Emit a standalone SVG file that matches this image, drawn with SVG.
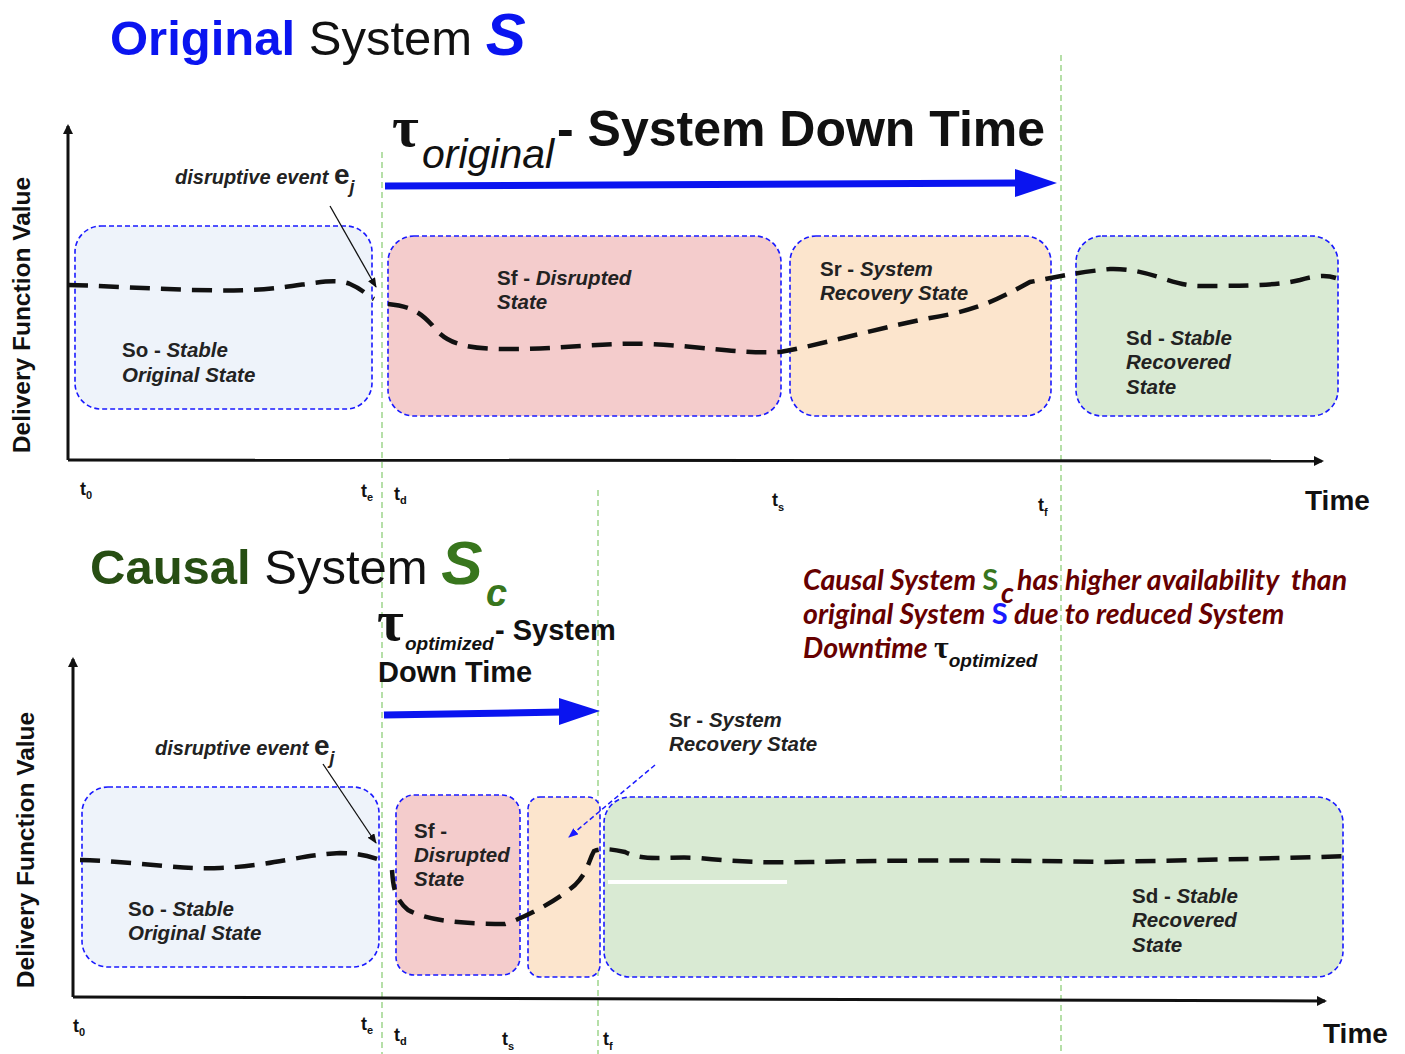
<svg xmlns="http://www.w3.org/2000/svg" width="1405" height="1054" viewBox="0 0 1405 1054">
  <style>
    .sans { font-family: "Liberation Sans", Arial, sans-serif; }
    .tau { font-family: "Liberation Serif", "Times New Roman", serif; font-weight: bold; fill: #111; }
    .lbl { font-family: "Liberation Sans", Arial, sans-serif; font-size: 20.5px; font-weight: bold; fill: #222; }
    .it { font-style: italic; }
    .tick { font-family: "Liberation Sans", Arial, sans-serif; font-size: 18px; font-weight: bold; fill: #111; }
    .sub { font-size: 11px; }
    .box { stroke: #1a1aff; stroke-width: 1.6; stroke-dasharray: 5 3; }
    .so { fill: #eef3fa; }
    .sf { fill: #f4cccc; }
    .sr { fill: #fce5cd; }
    .sd { fill: #d9ead3; }
    .guide { stroke: #8fce7a; stroke-width: 1.3; stroke-dasharray: 6 4; fill: none; }
    .axis { stroke: #111; stroke-width: 3; fill: none; }
    .curve { stroke: #111; stroke-width: 4.5; stroke-dasharray: 20 11; fill: none; }
    .span { stroke: #0a14f0; stroke-width: 7; fill: none; }
    .note { font-family: Lato, "Open Sans", sans-serif; font-size: 28.5px; font-weight: bold; font-style: italic; fill: #660000; }
    .event { font-family: "Liberation Sans", Arial, sans-serif; font-size: 20px; font-weight: bold; font-style: italic; fill: #222; }
  </style>
  <defs>
    <marker id="axisHead" markerWidth="10" markerHeight="10" refX="8" refY="5" orient="auto" markerUnits="userSpaceOnUse">
      <path d="M0,0 L10,5 L0,10 Z" fill="#111"/>
    </marker>
    <marker id="thinHead" markerWidth="10" markerHeight="8" refX="9" refY="4" orient="auto" markerUnits="userSpaceOnUse">
      <path d="M0,0 L10,4 L0,8 Z" fill="#111"/>
    </marker>
    <marker id="blueHead" markerWidth="10" markerHeight="8" refX="9" refY="4" orient="auto" markerUnits="userSpaceOnUse">
      <path d="M0,0 L10,4 L0,8 Z" fill="#1a1aff"/>
    </marker>
  </defs>

  <rect width="1405" height="1054" fill="#ffffff"/>

  <!-- time markers -->
  <g id="guides">
    <line class="guide" x1="382" y1="152" x2="382" y2="1054"/>
    <line class="guide" x1="1061" y1="55" x2="1061" y2="1054"/>
    <line class="guide" x1="598" y1="490" x2="598" y2="1054"/>
  </g>

  <!-- ===== Original system ===== -->
  <g id="title-original">
    <text x="110" y="55" class="sans" font-size="49"><tspan font-weight="bold" fill="#0a14f0">Original</tspan><tspan fill="#111"> System </tspan><tspan font-weight="bold" font-style="italic" fill="#0a14f0" font-size="60">S</tspan></text>
  </g>

  <g id="downtime-original">
    <text x="392" y="146" class="tau" font-size="58">τ</text>
    <text x="422" y="168" class="sans it" font-size="41" fill="#111">original</text>
    <text x="557" y="146" class="sans" font-size="50" font-weight="bold" fill="#111">- System Down Time</text>
  </g>

  <g id="axes-original">
    <line class="axis" x1="68" y1="460" x2="68" y2="126" marker-end="url(#axisHead)"/>
    <line class="axis" x1="68" y1="460" x2="1322" y2="461" marker-end="url(#axisHead)"/>
    <text transform="translate(30,315) rotate(-90)" text-anchor="middle" class="sans" font-size="24.5" font-weight="bold" fill="#111">Delivery Function Value</text>
    <text x="1305" y="510" class="sans" font-size="28" font-weight="bold" fill="#111">Time</text>
  </g>

  <g id="ticks-original">
    <text x="80" y="495" class="tick">t<tspan class="sub" dy="4">0</tspan></text>
    <text x="361" y="497" class="tick">t<tspan class="sub" dy="4">e</tspan></text>
    <text x="394" y="500" class="tick">t<tspan class="sub" dy="4">d</tspan></text>
    <text x="772" y="506" class="tick">t<tspan class="sub" dy="5">s</tspan></text>
    <text x="1038" y="511" class="tick">t<tspan class="sub" dy="5">f</tspan></text>
  </g>

  <g id="so-original">
    <rect class="box so" x="75" y="226" width="297" height="183" rx="26"/>
    <text class="lbl" x="122" y="357">So - <tspan class="it">Stable</tspan></text>
    <text class="lbl it" x="122" y="382">Original State</text>
  </g>
  <g id="sf-original">
    <rect class="box sf" x="388" y="236" width="393" height="180" rx="26"/>
    <text class="lbl" x="497" y="285">Sf - <tspan class="it">Disrupted</tspan></text>
    <text class="lbl it" x="497" y="309">State</text>
  </g>
  <g id="sr-original">
    <rect class="box sr" x="790" y="236" width="261" height="180" rx="26"/>
    <text class="lbl" x="820" y="276">Sr - <tspan class="it">System</tspan></text>
    <text class="lbl it" x="820" y="300">Recovery State</text>
  </g>
  <g id="sd-original">
    <rect class="box sd" x="1076" y="236" width="262" height="180" rx="26"/>
    <text class="lbl" x="1126" y="345">Sd - <tspan class="it">Stable</tspan></text>
    <text class="lbl it" x="1126" y="369">Recovered</text>
    <text class="lbl it" x="1126" y="394">State</text>
  </g>

  <g id="event-original">
    <text x="175" y="184" class="event">disruptive event <tspan font-size="28" font-style="normal">e</tspan><tspan font-size="18" dy="9">j</tspan></text>
  </g>

  <!-- ===== Causal system ===== -->
  <g id="title-causal">
    <text x="90" y="584" class="sans" font-size="49"><tspan font-weight="bold" fill="#274e13">Causal</tspan><tspan fill="#111"> System </tspan><tspan font-weight="bold" font-style="italic" fill="#38761d" font-size="62">S</tspan></text>
    <text x="486" y="606" class="sans it" font-size="38" font-weight="bold" fill="#38761d">c</text>
  </g>

  <g id="downtime-causal">
    <text x="377" y="640" class="tau" font-size="58">τ</text>
    <text x="405" y="650" class="sans it" font-size="19" font-weight="bold" fill="#111">optimized</text>
    <text x="495" y="640" class="sans" font-size="29" font-weight="bold" fill="#111">- System</text>
    <text x="378" y="682" class="sans" font-size="29" font-weight="bold" fill="#111">Down Time</text>
  </g>

  <g id="note">
    <text class="note" x="803" y="590">Causal System <tspan font-style="normal" fill="#38761d" font-size="29">S</tspan></text>
    <text class="note" x="1001" y="603" font-size="15" fill="#38761d">c</text>
    <text class="note" x="1017" y="590" xml:space="preserve">has higher availability  than</text>
    <text class="note" x="803" y="624">original System <tspan font-style="normal" fill="#1a1aff" font-size="29">S</tspan> due to reduced System</text>
    <text class="note" x="803" y="658">Downtime <tspan class="tau" font-style="normal" font-size="32">τ</tspan><tspan class="sans" font-size="19" dy="9" fill="#111">optimized</tspan></text>
  </g>

  <g id="axes-causal">
    <line class="axis" x1="73" y1="997" x2="73" y2="659" marker-end="url(#axisHead)"/>
    <line class="axis" x1="73" y1="997" x2="1325" y2="1001" marker-end="url(#axisHead)"/>
    <text transform="translate(34,850) rotate(-90)" text-anchor="middle" class="sans" font-size="24.5" font-weight="bold" fill="#111">Delivery Function Value</text>
    <text x="1323" y="1043" class="sans" font-size="28" font-weight="bold" fill="#111">Time</text>
  </g>

  <g id="ticks-causal">
    <text x="73" y="1032" class="tick">t<tspan class="sub" dy="4">0</tspan></text>
    <text x="361" y="1030" class="tick">t<tspan class="sub" dy="4">e</tspan></text>
    <text x="394" y="1041" class="tick">t<tspan class="sub" dy="4">d</tspan></text>
    <text x="502" y="1045" class="tick">t<tspan class="sub" dy="5">s</tspan></text>
    <text x="603" y="1045" class="tick">t<tspan class="sub" dy="5">f</tspan></text>
  </g>

  <g id="so-causal">
    <rect class="box so" x="82" y="787" width="297" height="180" rx="26"/>
    <text class="lbl" x="128" y="916">So - <tspan class="it">Stable</tspan></text>
    <text class="lbl it" x="128" y="940">Original State</text>
  </g>
  <g id="sf-causal">
    <rect class="box sf" x="396" y="795" width="124" height="180" rx="18"/>
    <text class="lbl" x="414" y="838">Sf -</text>
    <text class="lbl it" x="414" y="862">Disrupted</text>
    <text class="lbl it" x="414" y="886">State</text>
  </g>
  <g id="sr-causal">
    <rect class="box sr" x="528" y="797" width="72" height="180" rx="12"/>
    <text class="lbl" x="669" y="727">Sr - <tspan class="it">System</tspan></text>
    <text class="lbl it" x="669" y="751">Recovery State</text>
  </g>
  <g id="sd-causal">
    <rect class="box sd" x="604" y="797" width="739" height="180" rx="26"/>
    <text class="lbl" x="1132" y="903">Sd - <tspan class="it">Stable</tspan></text>
    <text class="lbl it" x="1132" y="927">Recovered</text>
    <text class="lbl it" x="1132" y="952">State</text>
  </g>

  <g id="event-causal">
    <text x="155" y="755" class="event">disruptive event <tspan font-size="28" font-style="normal">e</tspan><tspan font-size="18" dy="9">j</tspan></text>
  </g>

  <!-- connectors: spans, pointers and delivery curves -->
  <g id="connectors">
    <line class="span" x1="385" y1="186" x2="1018" y2="183"/>
    <path d="M1015,169 L1057,183 L1015,197 Z" fill="#0a14f0"/>
    <line class="span" x1="384" y1="715" x2="562" y2="712"/>
    <path d="M559,698 L600,711 L559,725 Z" fill="#0a14f0"/>

    <line x1="330" y1="206" x2="376" y2="287" stroke="#111" stroke-width="1.3" marker-end="url(#thinHead)"/>
    <line x1="323" y1="764" x2="376" y2="843" stroke="#111" stroke-width="1.3" marker-end="url(#thinHead)"/>
    <line x1="655" y1="765" x2="569" y2="837" stroke="#1a1aff" stroke-width="1.5" stroke-dasharray="5 3" marker-end="url(#blueHead)"/>

    <path class="curve" d="M68,285 C120,286 190,292 250,290 C300,288 330,276 350,284 C362,289 368,296 374,299"/>
    <path class="curve" d="M388,304 C410,306 420,312 432,325 C445,342 460,348 500,349 C560,350 600,342 650,344 C700,346 740,354 780,352 C820,345 870,330 930,318 C980,310 1000,298 1030,282 C1060,276 1080,272 1110,269 C1150,268 1170,286 1200,286 C1250,286 1280,285 1300,280 C1320,274 1330,276 1336,278"/>

    <path class="curve" d="M80,860 C130,861 180,870 220,868 C270,866 300,855 340,853 C360,853 372,857 386,862"/>
    <path class="curve" d="M392,870 C393,885 394,898 408,910 C430,922 470,924 505,924 C530,916 560,898 575,885 C588,872 588,862 594,851 C602,848 612,849 625,852 C645,862 665,856 700,858 C740,862 770,863 810,862 C900,860 1000,860 1100,862 C1200,860 1300,858 1345,856"/>
    <line x1="608" y1="882" x2="787" y2="882" stroke="#ffffff" stroke-width="4"/>
  </g>
</svg>
